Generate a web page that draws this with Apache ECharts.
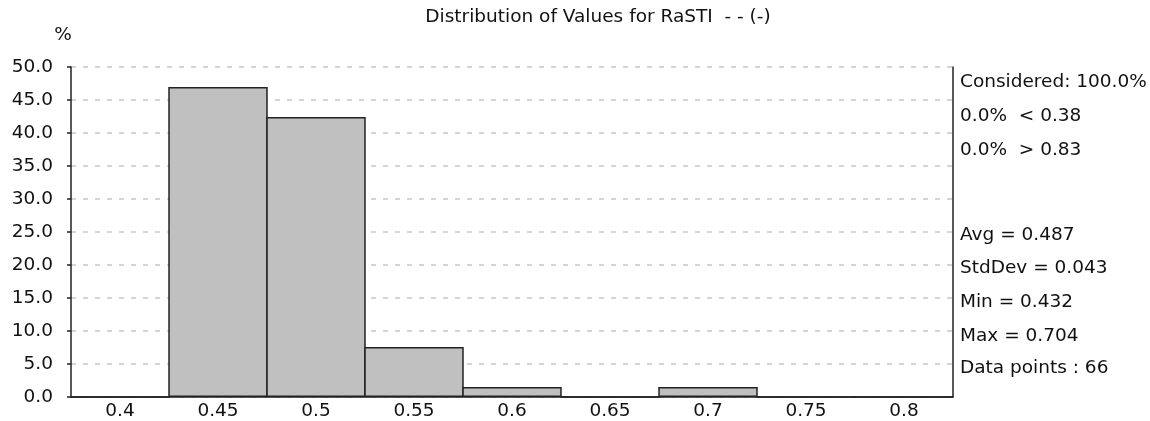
<!DOCTYPE html>
<html>
<head>
<meta charset="utf-8">
<script src="https://cdn.jsdelivr.net/npm/echarts@6/dist/echarts.min.js"></script>
<style>
html,body{margin:0;padding:0;background:#fff;}
#chart{width:1150px;height:421px;}
</style>
</head>
<body>
<div id="chart"></div>
<script>
var categories = ['0.4','0.45','0.5','0.55','0.6','0.65','0.7','0.75','0.8'];
var percentValues = [0, 46.97, 42.42, 7.58, 1.52, 0, 1.52, 0, 0];
var titleText = 'Distribution of Values for RaSTI  - - (-)';
var statsLines = [
  {text:'Considered: 100.0%', y:82},
  {text:'0.0%  < 0.38', y:116},
  {text:'0.0%  > 0.83', y:150},
  {text:'Avg = 0.487', y:235},
  {text:'StdDev = 0.043', y:268},
  {text:'Min = 0.432', y:302},
  {text:'Max = 0.704', y:336},
  {text:'Data points : 66', y:368}
];

var FONT = 'DejaVu Sans';
var FS = 18.5;
var TXT = '#111';

var chart = echarts.init(document.getElementById('chart'), null, {renderer:'canvas'});

var graphics = [
  {type:'text', style:{text:titleText, x:598, y:17, font: FS+'px "'+FONT+'"', fill:TXT, textAlign:'center', textVerticalAlign:'middle'}},
  {type:'text', style:{text:'%', x:63, y:35, font: FS+'px "'+FONT+'"', fill:TXT, textAlign:'center', textVerticalAlign:'middle'}}
];
statsLines.forEach(function(s){
  graphics.push({type:'text', style:{text:s.text, x:960, y:s.y, font: FS+'px "'+FONT+'"', fill:TXT, textAlign:'left', textVerticalAlign:'middle'}});
});

chart.setOption({
  animation:false,
  backgroundColor:'#fff',
  grid:{left:71, right:197, top:67, bottom:24, containLabel:false},
  xAxis:{
    type:'category',
    data:categories,
    axisLine:{show:true, lineStyle:{color:'#222', width:1.5}},
    axisTick:{show:false},
    axisLabel:{color:TXT, fontFamily:FONT, fontSize:FS, margin:5, interval:0},
    splitLine:{show:false}
  },
  yAxis:[{
    type:'value',
    min:0, max:50, interval:5,
    axisLine:{show:true, lineStyle:{color:'#222', width:1.5}},
    axisTick:{show:true, length:4, lineStyle:{color:'#222', width:1.5}},
    axisLabel:{color:TXT, fontFamily:FONT, fontSize:FS, margin:18, formatter:function(v){return v.toFixed(1);}},
    splitLine:{show:true, lineStyle:{color:'#c8c8c8', type:[5,7], width:1.5}}
  },{
    type:'value',
    min:0, max:50, interval:5,
    position:'right',
    axisLine:{show:true, lineStyle:{color:'#222', width:1.5}},
    axisTick:{show:false},
    axisLabel:{show:false},
    splitLine:{show:false}
  }],
  series:[{
    type:'bar',
    data:percentValues,
    barWidth:'101.5%',
    barGap:'-100%',
    itemStyle:{color:'#c0c0c0', borderColor:'#222', borderWidth:1.5},
    emphasis:{disabled:true}
  }],
  graphic:graphics
});
</script>
</body>
</html>
